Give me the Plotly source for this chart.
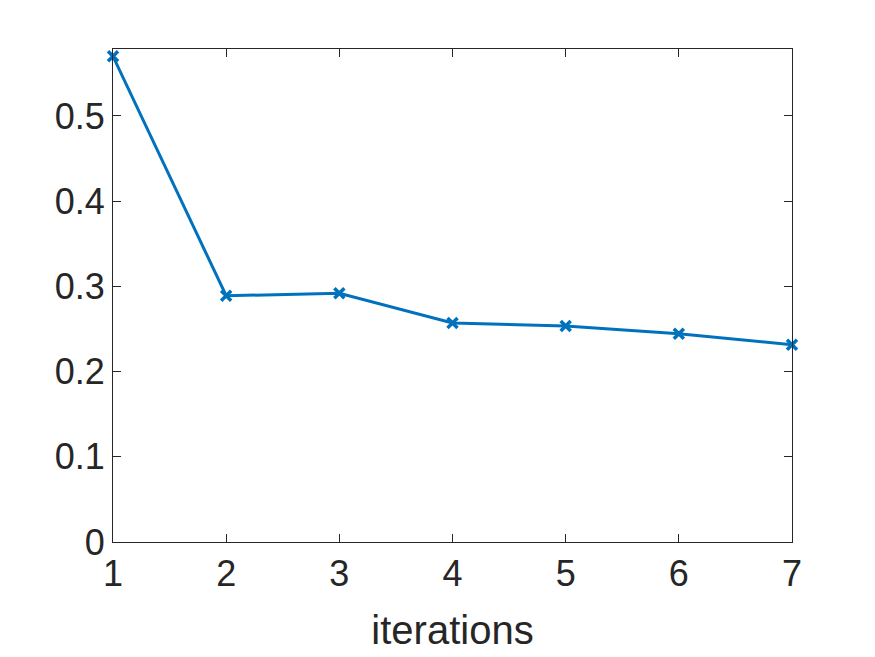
import plotly.graph_objects as go

iterations = [1, 2, 3, 4, 5, 6, 7]
values = [0.570, 0.289, 0.292, 0.257, 0.2535, 0.2445, 0.2316]
x_ticks = [1, 2, 3, 4, 5, 6, 7]
y_ticks = [0, 0.1, 0.2, 0.3, 0.4, 0.5]
y_tick_labels = ["0", "0.1", "0.2", "0.3", "0.4", "0.5"]

fig = go.Figure()
fig.add_trace(go.Scatter(
    x=iterations, y=values, mode="lines+markers",
    line=dict(color="#0072BD", width=3),
    marker=dict(symbol="x-thin", size=10, line=dict(color="#0072BD", width=3.5)),
    showlegend=False, cliponaxis=False,
))

axis_common = dict(
    showline=True, linecolor="#262626", linewidth=1, mirror="ticks",
    ticks="inside", ticklen=8, tickcolor="#262626", tickwidth=1,
    showgrid=False, zeroline=False,
    tickfont=dict(family="Liberation Sans, Arial, sans-serif", size=36, color="#262626"),
)

fig.update_xaxes(
    range=[1, 7], tickvals=x_ticks, ticktext=[str(v) for v in x_ticks],
    title=dict(text="iterations", font=dict(family="Liberation Sans, Arial, sans-serif", size=40, color="#262626"), standoff=22),
    **axis_common,
)
fig.update_yaxes(
    range=[0, 0.5786], tickvals=y_ticks, ticktext=y_tick_labels,
    **axis_common,
)

fig.update_layout(
    width=875, height=657,
    margin=dict(l=113, r=83, t=49, b=115),
    paper_bgcolor="white", plot_bgcolor="white",
)

fig.write_html("out.html")
